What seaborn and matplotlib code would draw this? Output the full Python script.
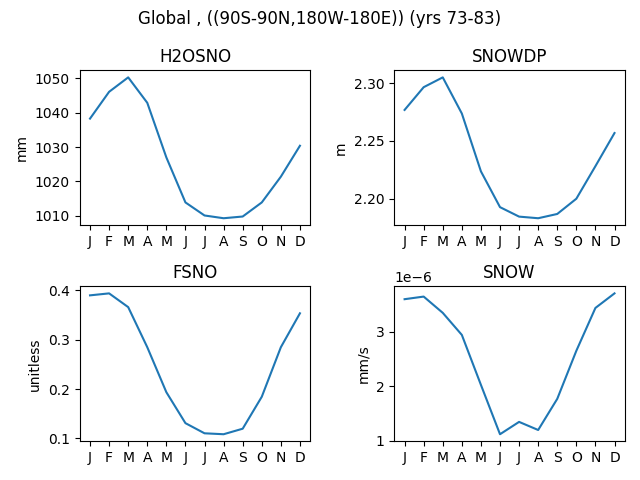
import numpy as np
import pandas as pd
import seaborn as sns
import matplotlib
matplotlib.use('Agg')
import matplotlib.pyplot as plt

# monthly climatology values
months = ['J', 'F', 'M', 'A', 'M', 'J', 'J', 'A', 'S', 'O', 'N', 'D']
h2osno = [1038.3, 1046.1, 1050.3, 1042.9, 1027.0, 1013.9, 1010.1, 1009.3, 1009.8, 1013.9, 1021.4, 1030.4]
snowdp = [2.2769, 2.2966, 2.3051, 2.2738, 2.2237, 2.1927, 2.1845, 2.1831, 2.1868, 2.2000, 2.2282, 2.2569]
fsno = [0.3895, 0.3935, 0.3657, 0.2846, 0.1936, 0.1310, 0.1105, 0.1086, 0.1198, 0.1844, 0.2846, 0.3532]
snow = [3.603e-6, 3.651e-6, 3.352e-6, 2.946e-6, 2.027e-6, 1.119e-6, 1.346e-6, 1.197e-6, 1.770e-6, 2.654e-6, 3.442e-6, 3.710e-6]

variables = ['H2OSNO', 'SNOWDP', 'FSNO', 'SNOW']
units = ['mm', 'm', 'unitless', 'mm/s']
values = [h2osno, snowdp, fsno, snow]

fig, axes = plt.subplots(2, 2, figsize=(6.4, 4.8), dpi=100)
for ax, name, unit, vals in zip(axes.flat, variables, units, values):
    df = pd.DataFrame({'month': np.arange(12), 'value': vals})
    sns.lineplot(data=df, x='month', y='value', ax=ax, color='#1f77b4')
    ax.set_title(name)
    ax.set_ylabel(unit)
    ax.set_xlabel('')
    ax.set_xticks(np.arange(12))
    ax.set_xticklabels(months)

fig.suptitle('Global , ((90S-90N,180W-180E)) (yrs 73-83)')
fig.tight_layout()
fig.savefig('out.png')
